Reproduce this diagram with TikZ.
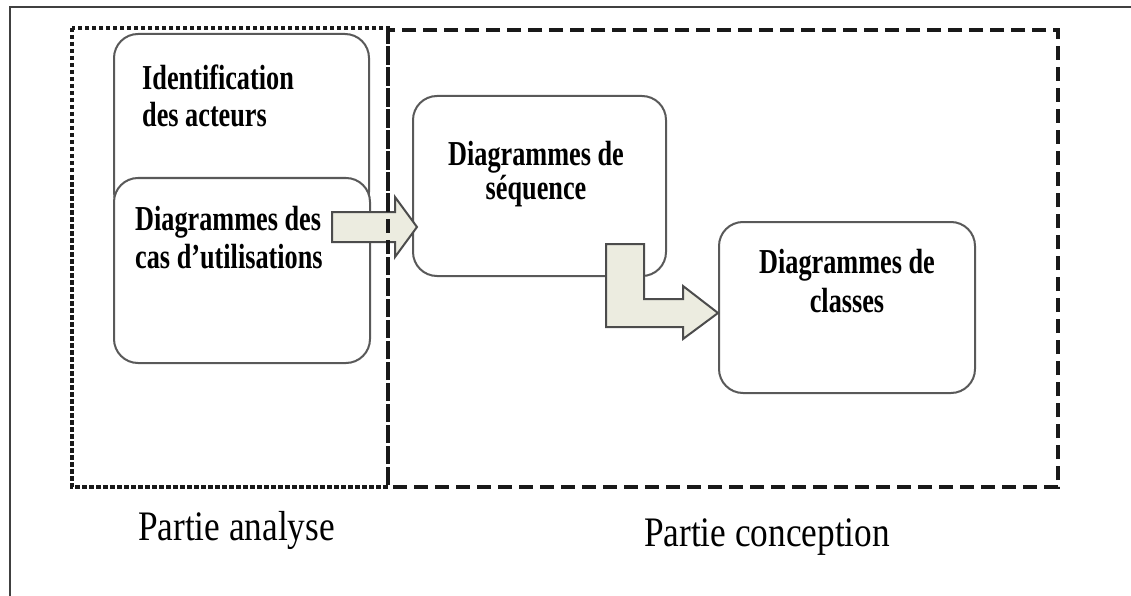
\documentclass[tikz,border=0pt]{standalone}
\usepackage{fontspec}
\setmainfont{Liberation Serif}
\newfontfamily\stagefont{Liberation Serif}[FakeStretch=0.75]
\newfontfamily\captionfont{Liberation Serif}[FakeStretch=0.84]
\definecolor{arrowfill}{RGB}{236,236,224}
\begin{document}
\begin{tikzpicture}[x=1pt,y=-1pt,
  frame/.style={draw=black!75, line width=2.5pt},
  analysisbox/.style={draw=black!90, line width=3.2pt, dash pattern=on 4.5pt off 2.5pt},
  conceptbox/.style={draw=black!90, line width=3.8pt, dash pattern=on 14pt off 7pt},
  stagebox/.style={draw=black!65, line width=2pt, fill=white, rounded corners=24pt,
                   inner sep=0pt, anchor=north west},
  blockarrow/.style={draw=black!70, line width=2pt, fill=arrowfill, line join=miter},
  boxtext/.style={font=\stagefont\fontsize{35}{37}\selectfont\bfseries, inner sep=0pt},
  parttext/.style={font=\captionfont\fontsize{42}{48}\selectfont, inner sep=0pt, anchor=base}]
\useasboundingbox (0,0) rectangle (1131,596);

% outer frame (left and top edges)
\draw[frame] (10,596) -- (10,7) -- (1131,7);

% analysis region
\draw[analysisbox] (72,28) rectangle (388,487);

% stage boxes
\node[stagebox, minimum width=255pt, minimum height=182pt] (ident) at (113,33) {};
\node[stagebox, minimum width=256pt, minimum height=185pt] (usecase) at (113,177) {};
\node[stagebox, minimum width=253pt, minimum height=180pt] (seq) at (412,95) {};
\node[stagebox, minimum width=256pt, minimum height=171pt] (cls) at (718,221) {};

% block arrows between stages
\draw[blockarrow] (332,212) -- (395,212) -- (395,197) -- (417,227)
  -- (395,257) -- (395,242) -- (332,242) -- cycle;
\draw[blockarrow] (606,244) -- (644,244) -- (644,299) -- (683,299) -- (683,286)
  -- (718,313) -- (683,339) -- (683,327) -- (606,327) -- cycle;

% conception region
\draw[conceptbox] (388,30) rectangle (1058,487);

% box texts
\node[boxtext, anchor=base west] (identA) at (142,90) {Identification};
\node[boxtext, anchor=base west] (identB) at (142,127) {des acteurs};
\node[boxtext, anchor=base west] (ucA) at (135,230) {Diagrammes des};
\node[boxtext, anchor=base west] (ucB) at (135,268) {cas d’utilisations};
\node[boxtext, anchor=base] (seqA) at (536,165) {Diagrammes de};
\node[boxtext, anchor=base] (seqB) at (536,199) {séquence};
\node[boxtext, anchor=base] (clsA) at (847,273) {Diagrammes de};
\node[boxtext, anchor=base] (clsB) at (847,312) {classes};

% region captions
\node[parttext] (analyse) at (236.5,540) {Partie analyse};
\node[parttext] (conception) at (767,546) {Partie conception};
\end{tikzpicture}
\end{document}
